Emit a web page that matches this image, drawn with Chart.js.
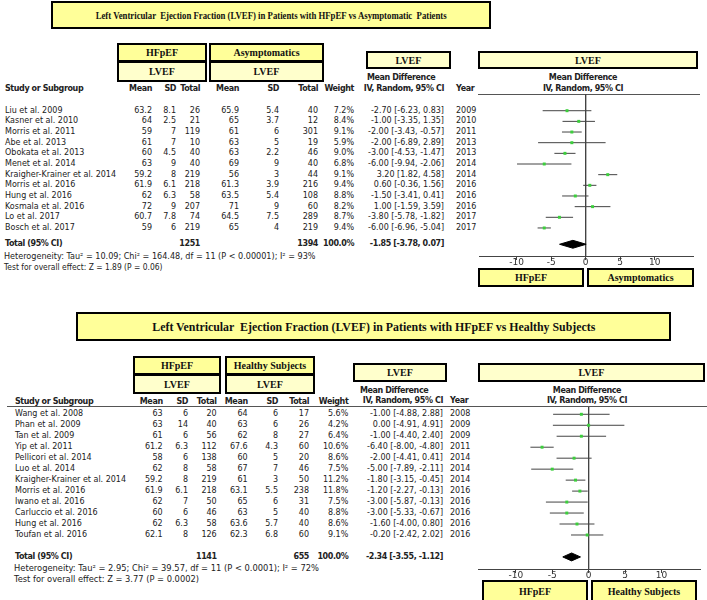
<!DOCTYPE html>
<html><head><meta charset="utf-8">
<script src="https://cdn.jsdelivr.net/npm/chart.js@4.4.0/dist/chart.umd.min.js"></script>
<style>
html,body{margin:0;padding:0;background:#fff;}
#root{position:relative;width:707px;height:600px;overflow:hidden;font-family:"DejaVu Sans",sans-serif;font-size:8px;color:#222;}
.t{position:absolute;white-space:pre;line-height:10px;height:10px;}
.b{font-weight:bold;letter-spacing:-0.4px;}
.box{position:absolute;box-sizing:border-box;border:2px solid #000;display:flex;align-items:center;justify-content:center;font-family:"Liberation Serif",serif;font-weight:bold;font-size:10px;color:#111;white-space:pre;overflow:visible;}
.hl{position:absolute;height:1px;background:#555;}
canvas{position:absolute;}
</style></head><body><div id="root"></div>
<script>
// ---------- Data: HFpEF vs Asymptomatic ----------
const studiesA = ["Liu et al. 2009","Kasner et al. 2010","Morris et al. 2011","Abe et al. 2013","Obokata et al. 2013","Menet et al. 2014","Kraigher-Krainer et al. 2014","Morris et al. 2016","Hung et al. 2016","Kosmala et al. 2016","Lo et al. 2017","Bosch et al. 2017"];
const hfMeanA = [63.2,64,59,61,60,63,59.2,61.9,62,72,60.7,59];
const hfSdA   = [8.1,2.5,7,7,4.5,9,8,6.1,6.3,9,7.8,6];
const hfNA    = [26,21,119,10,40,40,219,218,58,207,74,219];
const asMeanA = [65.9,65,61,63,63,69,56,61.3,63.5,71,64.5,65];
const asSdA   = [5.4,3.7,6,5,2.2,9,3,3.9,5.4,9,7.5,4];
const asNA    = [40,12,301,19,46,40,44,216,108,60,289,219];
const weightA = [7.2,8.4,9.1,5.9,9.0,6.8,9.1,9.4,8.8,8.2,8.7,9.4];
const mdA     = [-2.70,-1.00,-2.00,-2.00,-3.00,-6.00,3.20,0.60,-1.50,1.00,-3.80,-6.00];
const loA     = [-6.23,-3.35,-3.43,-6.89,-4.53,-9.94,1.82,-0.36,-3.41,-1.59,-5.78,-6.96];
const hiA     = [0.83,1.35,-0.57,2.89,-1.47,-2.06,4.58,1.56,0.41,3.59,-1.82,-5.04];
const yearA   = [2009,2010,2011,2013,2013,2014,2014,2016,2016,2016,2017,2017];
const totalNA = [1251,1394];
const pooledA = [-1.85,-3.78,0.07]; // estimate, lower, upper
const hetA  = "Heterogeneity: Tau² = 10.09; Chi² = 164.48, df = 11 (P < 0.00001); I² = 93%";
const testA = "Test for overall effect: Z = 1.89 (P = 0.06)";

// ---------- Data: HFpEF vs Healthy Subjects ----------
const studiesH = ["Wang et al. 2008","Phan et al. 2009","Tan et al. 2009","Yip et al. 2011","Pellicori et al. 2014","Luo et al. 2014","Kraigher-Krainer et al. 2014","Morris et al. 2016","Iwano et al. 2016","Carluccio et al. 2016","Hung et al. 2016","Toufan et al. 2016"];
const hfMeanH = [63,63,61,61.2,58,62,59.2,61.9,62,60,62,62.1];
const hfSdH   = [6,14,6,6.3,6,8,8,6.1,7,6,6.3,8];
const hfNH    = [20,40,56,112,138,58,219,218,50,46,58,126];
const hsMeanH = [64,63,62,67.6,60,67,61,63.1,65,63,63.6,62.3];
const hsSdH   = [6,6,8,4.3,5,7,3,5.5,6,5,5.7,6.8];
const hsNH    = [17,26,27,60,20,46,50,238,31,40,40,60];
const weightH = [5.6,4.2,6.4,10.6,8.6,7.5,11.2,11.8,7.5,8.8,8.6,9.1];
const mdH     = [-1.00,0.00,-1.00,-6.40,-2.00,-5.00,-1.80,-1.20,-3.00,-3.00,-1.60,-0.20];
const loH     = [-4.88,-4.91,-4.40,-8.00,-4.41,-7.89,-3.15,-2.27,-5.87,-5.33,-4.00,-2.42];
const hiH     = [2.88,4.91,2.40,-4.80,0.41,-2.11,-0.45,-0.13,-0.13,-0.67,0.80,2.02];
const yearH   = [2008,2009,2009,2011,2014,2014,2014,2016,2016,2016,2016,2016];
const totalNH = [1141,655];
const pooledH = [-2.34,-3.55,-1.12];
const hetH  = "Heterogeneity: Tau² = 2.95; Chi² = 39.57, df = 11 (P < 0.0001); I² = 72%";
const testH = "Test for overall effect: Z = 3.77 (P = 0.0002)";

const xTicks = [-10,-5,0,5,10];
const colHeads = ["Mean","SD","Total","Mean","SD","Total","Weight"];

// ---------- helpers ----------
const root = document.getElementById('root');
const fitList = [];
function applyFits(){
  fitList.forEach(([el,w,origin])=>{
    el.style.transform='none';
    const cw=el.getBoundingClientRect().width;
    if(cw>0){ el.style.transformOrigin=origin; el.style.transform='scaleX('+(w/cw)+')'; }
  });
}
function txt(x,y,s,align,cls,extra){
  const d=document.createElement('div'); d.className='t'+(cls?' '+cls:''); d.textContent=s;
  const W=500;
  if(align==='r'){d.style.left=(x-W)+'px';d.style.width=W+'px';d.style.textAlign='right';}
  else if(align==='c'){d.style.left=(x-W/2)+'px';d.style.width=W+'px';d.style.textAlign='center';}
  else d.style.left=x+'px';
  d.style.top=(y-5)+'px';
  if(extra) Object.assign(d.style,extra);
  root.appendChild(d); return d;
}
function fitTxt(x1,x2,y,s){
  const d=txt(x1,y,s,'l');
  fitList.push([d,x2-x1,'0 50%']);
  return d;
}
function box(x1,y1,x2,y2,label,fill,fs,fitW){
  const d=document.createElement('div'); d.className='box';
  d.style.left=x1+'px'; d.style.top=y1+'px'; d.style.width=(x2-x1)+'px'; d.style.height=(y2-y1)+'px';
  d.style.background=fill; if(fs) d.style.fontSize=fs+'px';
  const s=document.createElement('span'); s.textContent=label; s.style.display='inline-block';
  d.appendChild(s); root.appendChild(d);
  if(fitW) fitList.push([s,fitW,'50% 50%']);
  return d;
}
function hline(x1,x2,y){const d=document.createElement('div');d.className='hl';d.style.left=x1+'px';d.style.width=(x2-x1)+'px';d.style.top=y+'px';root.appendChild(d);}
const f2=v=>v.toFixed(2);
const ci=(m,l,h)=>f2(m)+" ["+f2(l)+", "+f2(h)+"]";

function panel(P){
  // header row
  txt(P.nameX,P.headY,"Study or Subgroup",'l','b');
  colHeads.forEach((h,k)=>txt(P.cols[k],P.headY,h,'r','b'));
  txt(P.mdL,P.mdY,"Mean Difference",'l','b');
  txt(P.ciR,P.ivY,"IV, Random, 95% CI",'r','b');
  txt(P.yearL,P.ivY,"Year",'l','b');
  txt(P.fcx,P.mdY,"Mean Difference",'c','b');
  txt(P.fcx,P.ivY,"IV, Random, 95% CI",'c','b');
  // rows
  P.studies.forEach((s,i)=>{
    const y=P.row0+i*P.dy;
    txt(P.nameX,y,s,'l');
    const vals=[P.m1[i],P.s1[i],P.n1[i],P.m2[i],P.s2[i],P.n2[i],P.w[i].toFixed(1)+"%"];
    vals.forEach((v,k)=>txt(P.cols[k],y,String(v),'r'));
    txt(P.ciR,y,ci(P.md[i],P.lo[i],P.hi[i]),'r');
    txt(P.yearL,y,String(P.year[i]),'l');
  });
  // total
  txt(P.nameX,P.totY,"Total (95% CI)",'l','b');
  txt(P.cols[2],P.totY,String(P.totN[0]),'r','b');
  txt(P.cols[5],P.totY,String(P.totN[1]),'r','b');
  txt(P.cols[6],P.totY,"100.0%",'r','b');
  txt(P.ciR,P.totY,ci(P.pooled[0],P.pooled[1],P.pooled[2]),'r','b');
  fitTxt(P.hetX[0],P.hetX[1],P.hetY,P.het);
  fitTxt(P.testX[0],P.testX[1],P.testY,P.test);
  // forest chart
  const c=document.createElement('canvas');
  c.width=P.cv.w; c.height=P.cv.h; c.style.left=P.cv.x+'px'; c.style.top=P.cv.y+'px';
  root.appendChild(c);
  const rows=P.studies.map((s,i)=>i);
  const ds=[];
  ds.push({data:P.md.map((v,i)=>({x:v,y:rows[i]})),showLine:false,pointStyle:'rect',pointRadius:2.1,pointBackgroundColor:'#3ccf3c',pointBorderWidth:0});
  const e=P.pooled, ty=P.totRow, h=P.dh;
  ds.push({data:[{x:e[1],y:ty},{x:e[0],y:ty-h},{x:e[2],y:ty},{x:e[0],y:ty+h},{x:e[1],y:ty}],showLine:true,fill:'shape',backgroundColor:'#000',borderColor:'#000',borderWidth:1,pointRadius:0});
  P.md.forEach((v,i)=>ds.push({data:[{x:P.lo[i],y:rows[i]},{x:P.hi[i],y:rows[i]}],showLine:true,borderColor:'#444',borderWidth:1,pointRadius:0}));
  ds.push({data:[{x:0,y:P.ymin},{x:0,y:P.ymax}],showLine:true,borderColor:'#444',borderWidth:1,pointRadius:0});
  new Chart(c,{type:'scatter',data:{datasets:ds},options:{
    responsive:false,animation:false,devicePixelRatio:1,
    layout:{padding:{left:P.pad.l,right:P.pad.r,top:P.pad.t,bottom:0}},
    plugins:{legend:{display:false},tooltip:{enabled:false}},
    scales:{
      x:{type:'linear',min:P.xmin,max:P.xmax,
        afterFit:s=>{s.height=20;},
        afterBuildTicks:s=>{s.ticks=xTicks.map(v=>({value:v}));},
        grid:{display:true,drawOnChartArea:false,drawTicks:true,tickLength:4,color:'#444'},
        border:{display:true,color:'#444',width:1},
        ticks:{padding:-3,font:{family:'DejaVu Sans',size:9},color:'#333',callback:v=>String(v),autoSkip:false,maxRotation:0}},
      y:{type:'linear',display:false,min:P.ymin,max:P.ymax,reverse:true}
    }}});
}

// ---------- Panel 1 ----------
box(51,1,491,29,"Left Ventricular  Ejection Fraction (LVEF) in Patients with HFpEF vs Asymptomatic  Patients",'#ffff99',11,351);
box(117,43,207,62,"HFpEF",'#ffff99');
box(117,61,207,82,"LVEF",'#ffffcc');
box(209,43,324,62,"Asymptomatics",'#ffff99');
box(209,61,324,82,"LVEF",'#ffffcc');
box(366,51,451,69,"LVEF",'#ffffcc');
box(478,51,698,69,"LVEF",'#ffffcc');
box(478,268,584,287,"HFpEF",'#ffff99');
box(587,268,694,287,"Asymptomatics",'#ffff99');
hline(478,700,94);
panel({studies:studiesA,m1:hfMeanA,s1:hfSdA,n1:hfNA,m2:asMeanA,s2:asSdA,n2:asNA,w:weightA,md:mdA,lo:loA,hi:hiA,year:yearA,
  totN:totalNA,pooled:pooledA,het:hetA,test:testA,
  nameX:5,cols:[152,176,200,239,279,318,354],ciR:444,yearL:456,mdL:367,fcx:583,
  headY:89,mdY:78,ivY:88.5,row0:110.7,dy:10.66,totY:244.3,hetY:256.5,testY:267.5,
  hetX:[3.5,315],testX:[3.5,162],
  cv:{x:470,y:88,w:237,h:188},pad:{l:9,r:14,t:6},xmin:-15.45,xmax:15.55,ymin:-1.567,ymax:13.63,totRow:12.53,dh:0.37});

// ---------- Panel 2 ----------
box(76,312,671,341,"Left Ventricular  Ejection Fraction (LVEF) in Patients with HFpEF vs Healthy Subjects",'#ffff99',13,443);
box(133,356,221,375,"HFpEF",'#ffff99');
box(133,374,221,394,"LVEF",'#ffffcc');
box(225,356,315,375,"Healthy Subjects",'#ffff99');
box(225,374,315,394,"LVEF",'#ffffcc');
box(353,363,447,382,"LVEF",'#ffffcc');
box(478,363,705,382,"LVEF",'#ffffcc');
box(482,580,588,602,"HFpEF",'#ffff99');
box(591,580,697,602,"Healthy Subjects",'#ffff99');
hline(7,707,406);
panel({studies:studiesH,m1:hfMeanH,s1:hfSdH,n1:hfNH,m2:hsMeanH,s2:hsSdH,n2:hsNH,w:weightH,md:mdH,lo:loH,hi:hiH,year:yearH,
  totN:totalNH,pooled:pooledH,het:hetH,test:testH,
  nameX:15,cols:[162.7,188,216.7,247.7,278,309,348.3],ciR:443,yearL:450,mdL:360,fcx:587,
  headY:401.5,mdY:390.7,ivY:400.7,row0:414.3,dy:10.97,totY:557.3,hetY:569.3,testY:579.5,
  hetX:[14,319],testX:[14,199],
  cv:{x:470,y:401,w:237,h:188},pad:{l:8,r:7,t:6},xmin:-15.2,xmax:15.3,ymin:-0.665,ymax:14.10,totRow:13.0,dh:0.36});

applyFits();
if(document.fonts && document.fonts.ready){ document.fonts.ready.then(applyFits); }
window.addEventListener('load',applyFits);
</script></body></html>
